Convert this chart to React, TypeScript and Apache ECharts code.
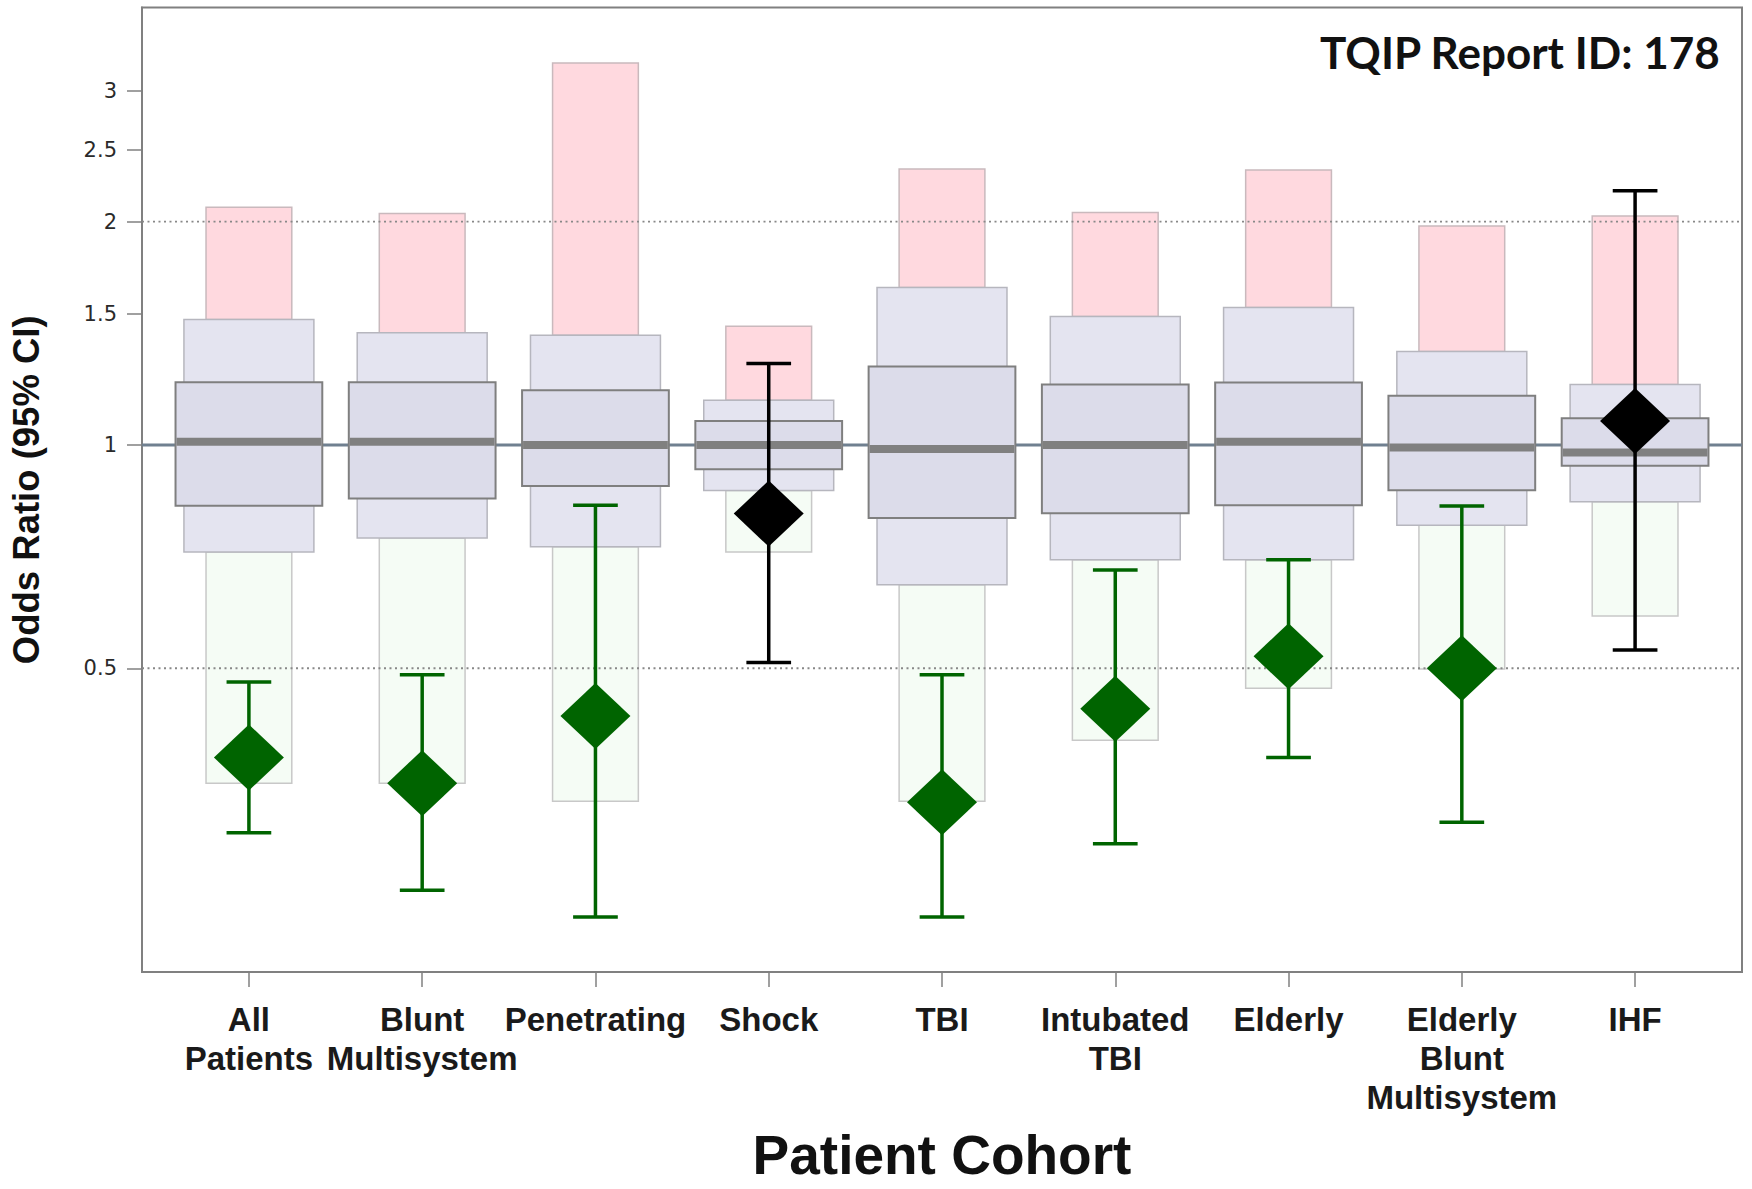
import React, { useEffect, useRef } from 'react';
import * as echarts from 'echarts';

// ---- Data (odds ratios) ----
const categories = [
  'All\nPatients',
  'Blunt\nMultisystem',
  'Penetrating',
  'Shock',
  'TBI',
  'Intubated\nTBI',
  'Elderly',
  'Elderly\nBlunt\nMultisystem',
  'IHF',
];
const pinkTop = [2.09, 2.05, 3.27, 1.445, 2.355, 2.057, 2.347, 1.973, 2.034];
const outerHigh = [1.476, 1.416, 1.405, 1.149, 1.63, 1.49, 1.532, 1.336, 1.206];
const innerHigh = [1.215, 1.215, 1.185, 1.077, 1.275, 1.206, 1.214, 1.165, 1.086];
const medianOR = [1.01, 1.01, 1.0, 1.0, 0.987, 1.0, 1.01, 0.992, 0.977];
const innerLow = [0.828, 0.847, 0.88, 0.927, 0.797, 0.809, 0.829, 0.869, 0.937];
const outerLow = [0.717, 0.749, 0.729, 0.868, 0.648, 0.7, 0.7, 0.779, 0.838];
const greenBottom = [0.35, 0.35, 0.331, 0.717, 0.331, 0.4, 0.47, 0.499, 0.588];
const oddsRatio = [0.379, 0.35, 0.431, 0.808, 0.33, 0.441, 0.519, 0.5, 1.077];
const ciLow = [0.3, 0.251, 0.231, 0.509, 0.231, 0.29, 0.379, 0.31, 0.529];
const ciHigh = [0.479, 0.49, 0.829, 1.287, 0.49, 0.678, 0.7, 0.827, 2.2];

const yTickValues = [0.5, 1, 1.5, 2, 2.5, 3];
const dottedGridValues = [0.5, 2];
const referenceValue = [1];
const yAxisMin = 0.1948;
const yAxisMax = 3.886;

const reportLabel = 'TQIP Report ID: 178';

export default function App() {
  const ref = useRef<HTMLDivElement>(null);

  useEffect(() => {
    if (!ref.current) return;
    const chart = echarts.init(ref.current, null, { renderer: 'svg' });
    const ln = Math.log;
    const idx = categories.map((_, i) => i);

    const rectSeries = (
      name: string,
      lows: number[],
      highs: number[],
      width: number,
      fill: string,
      stroke: string,
      lineWidth: number,
      z: number
    ) => ({
      type: 'custom',
      name,
      z,
      silent: true,
      data: idx.map((i) => [i, ln(lows[i]), ln(highs[i])]),
      encode: { x: 0, y: [1, 2] },
      renderItem: (params: any, api: any) => {
        const x = api.value(0);
        const lo = api.value(1);
        const hi = api.value(2);
        const p1 = api.coord([x - width / 2, hi]);
        const p2 = api.coord([x + width / 2, lo]);
        return {
          type: 'rect',
          shape: { x: p1[0], y: p1[1], width: p2[0] - p1[0], height: p2[1] - p1[1] },
          style: { fill, stroke, lineWidth },
        };
      },
    });

    const hLineSeries = (
      name: string,
      values: number[],
      stroke: string,
      lineWidth: number,
      lineDash: number[] | null,
      z: number
    ) => ({
      type: 'custom',
      name,
      z,
      silent: true,
      data: values.map((v) => [0, ln(v)]),
      encode: { x: 0, y: 1 },
      renderItem: (params: any, api: any) => {
        const cs = params.coordSys;
        const y = api.coord([0, api.value(1)])[1];
        return {
          type: 'line',
          shape: { x1: cs.x, y1: y, x2: cs.x + cs.width, y2: y },
          style: { stroke, lineWidth, lineDash: lineDash || undefined },
        };
      },
    });

    const isSig = (i: number) => ciHigh[i] < 1 || ciLow[i] > 1;
    const GREEN = '#006400';
    const BLACK = '#000000';

    const option: any = {
      animation: false,
      backgroundColor: '#ffffff',
      grid: {
        left: 142,
        right: 10,
        top: 7.5,
        bottom: 217,
        containLabel: false,
        outerBoundsMode: 'none',
        show: true,
        borderColor: '#808080',
        borderWidth: 2,
        backgroundColor: 'transparent',
      },
      xAxis: {
        type: 'value',
        min: -0.617,
        max: 8.617,
        splitLine: { show: false },
        axisLine: { show: true, onZero: false, lineStyle: { color: '#808080', width: 2 } },
        axisTick: {
          show: true,
          customValues: idx,
          length: 15,
          lineStyle: { color: '#808080', width: 1.5 },
        },
        axisLabel: {
          customValues: idx,
          formatter: (v: number) => categories[Math.round(v)],
          fontFamily: 'Liberation Sans',
          fontWeight: 'bold',
          fontSize: 33,
          lineHeight: 39,
          color: '#1a1a1a',
          margin: 28,
        },
        name: 'Patient Cohort',
        nameLocation: 'middle',
        nameGap: 158,
        nameTextStyle: {
          fontFamily: 'Liberation Sans',
          fontWeight: 'bold',
          fontSize: 55,
          lineHeight: 50,
          color: '#111',
        },
      },
      yAxis: {
        type: 'value',
        min: ln(yAxisMin),
        max: ln(yAxisMax),
        splitLine: { show: false },
        axisLine: { show: true, onZero: false, lineStyle: { color: '#808080', width: 2 } },
        axisTick: {
          show: true,
          customValues: yTickValues.map((v) => ln(v)),
          length: 15,
          lineStyle: { color: '#808080', width: 1.5 },
        },
        axisLabel: {
          customValues: yTickValues.map((v) => ln(v)),
          formatter: (v: number) => {
            const t = yTickValues.find((k) => Math.abs(ln(k) - v) < 1e-6);
            return t === undefined ? '' : String(t);
          },
          fontFamily: 'DejaVu Sans',
          fontSize: 21,
          color: '#2a2a2a',
          margin: 25,
        },
        name: 'Odds Ratio (95% CI)',
        nameLocation: 'middle',
        nameGap: 97,
        nameTextStyle: {
          fontFamily: 'Liberation Sans',
          fontWeight: 'bold',
          fontSize: 36.5,
          color: '#111',
        },
      },
      graphic: [
        {
          type: 'text',
          right: 31,
          top: 30,
          style: {
            text: reportLabel,
            fontFamily: 'Lato',
            fontWeight: 'bold',
            fontSize: 44,
            fill: '#111',
          },
          z: 20,
        },
      ],
      series: [
        hLineSeries('reference', referenceValue, '#708090', 3, null, 1),
        rectSeries('upper', outerHigh, pinkTop, 0.495, '#FFD9DF', '#C9B9BD', 1.5, 2),
        rectSeries('lower', greenBottom, outerLow, 0.495, '#F5FCF5', '#C8C8C8', 1.5, 2),
        hLineSeries('grid', dottedGridValues, '#888888', 1.8, [2, 3.5], 3),
        rectSeries('outer', outerLow, outerHigh, 0.75, '#E4E4F0', '#B6B6BE', 1.5, 4),
        rectSeries('inner', innerLow, innerHigh, 0.847, '#DCDCEA', '#7F7F7F', 2, 5),
        {
          type: 'custom',
          name: 'median',
          z: 6,
          silent: true,
          data: idx.map((i) => [i, ln(medianOR[i])]),
          encode: { x: 0, y: 1 },
          renderItem: (params: any, api: any) => {
            const x = api.value(0);
            const p1 = api.coord([x - 0.847 / 2, api.value(1)]);
            const p2 = api.coord([x + 0.847 / 2, api.value(1)]);
            return {
              type: 'line',
              shape: { x1: p1[0] + 1, y1: p1[1], x2: p2[0] - 1, y2: p2[1] },
              style: { stroke: '#808080', lineWidth: 8 },
            };
          },
        },
        {
          type: 'custom',
          name: 'ci',
          z: 7,
          silent: true,
          data: idx.map((i) => [i, ln(ciLow[i]), ln(ciHigh[i])]),
          encode: { x: 0, y: [1, 2] },
          renderItem: (params: any, api: any) => {
            const i = params.dataIndex;
            const x = api.value(0);
            const color = isSig(i) ? GREEN : BLACK;
            const top = api.coord([x, api.value(2)]);
            const bot = api.coord([x, api.value(1)]);
            const capL = api.coord([x - 0.129, api.value(2)]);
            const capR = api.coord([x + 0.129, api.value(2)]);
            const half = (capR[0] - capL[0]) / 2;
            const style = { stroke: color, lineWidth: 3.5 };
            return {
              type: 'group',
              children: [
                { type: 'line', shape: { x1: top[0], y1: top[1], x2: bot[0], y2: bot[1] }, style },
                { type: 'line', shape: { x1: top[0] - half, y1: top[1], x2: top[0] + half, y2: top[1] }, style },
                { type: 'line', shape: { x1: bot[0] - half, y1: bot[1], x2: bot[0] + half, y2: bot[1] }, style },
              ],
            };
          },
        },
        {
          type: 'scatter',
          name: 'odds ratio',
          z: 8,
          silent: true,
          symbol: 'diamond',
          symbolSize: [70, 66],
          itemStyle: { opacity: 1 },
          data: idx.map((i) => ({
            value: [i, ln(oddsRatio[i])],
            itemStyle: { color: isSig(i) ? GREEN : BLACK, opacity: 1 },
          })),
        },
      ],
    };

    chart.setOption(option);
    return () => chart.dispose();
  }, []);

  return (
    <div
      ref={ref}
      style={{ position: 'fixed', left: 0, top: 0, width: 1752, height: 1189, background: '#fff' }}
    />
  );
}
